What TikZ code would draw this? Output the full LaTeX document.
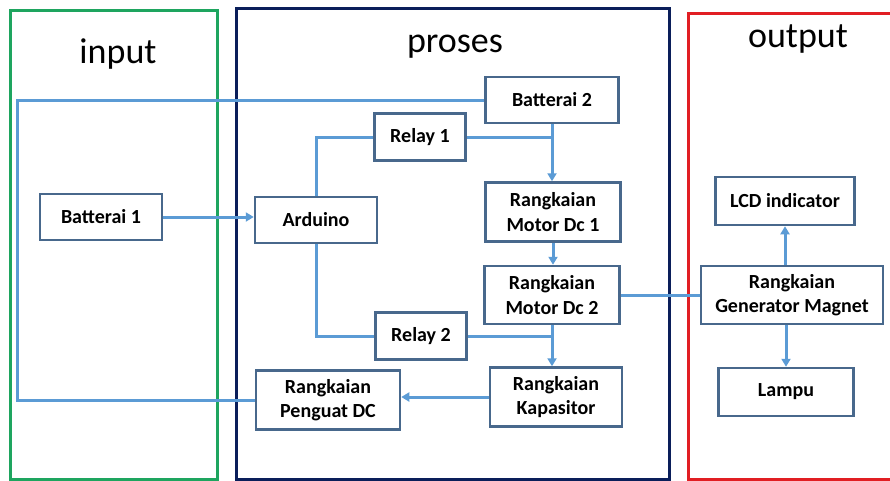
\documentclass[tikz,border=0pt]{standalone}
\usepackage{fontspec}
\setmainfont{Carlito}
\usetikzlibrary{arrows.meta}
\definecolor{kabelbiru}{RGB}{91,155,213}
\definecolor{tepikotak}{RGB}{72,104,140}
\definecolor{hijau}{RGB}{30,165,95}
\definecolor{birutua}{RGB}{10,30,90}
\definecolor{merah}{RGB}{225,30,35}

\begin{document}
\begin{tikzpicture}[x=1pt,y=-1pt,
  blok/.style={draw=tepikotak,line width=2.5pt,fill=white,align=center,inner sep=0pt,
    font=\fontsize{20}{24.5}\selectfont\bfseries},
  kabel/.style={kabelbiru,line width=3pt},
  panah/.style={kabel,-{Triangle[length=8pt,width=9pt]}},
  judul/.style={anchor=base,font=\fontsize{36}{40}\selectfont},
  grup/.style={line width=3pt}]
\useasboundingbox (0,0) rectangle (890,480);
\draw[grup,hijau](10,10)rectangle(217,479);
\draw[grup,birutua](236,8)rectangle(669,479);
\draw[grup,merah](688,13)rectangle(896,479);
\node[judul](tinput) at (118,63){input};
\node[judul](tproses) at (455,52){proses};
\node[judul](toutput) at (798,47){output};
\node[blok,minimum width=122,minimum height=46](bat1) at (101,217){Batterai 1};
\node[blok,minimum width=122,minimum height=46](ard) at (316,220){Arduino};
\node[blok,minimum width=91,minimum height=47](rly1) at (420,137){Relay 1};
\node[blok,minimum width=91,minimum height=47](rly2) at (421,336){Relay 2};
\node[blok,minimum width=133,minimum height=46](bat2) at (552,100){Batterai 2};
\node[blok,minimum width=135,minimum height=59](mtr1) at (553,212){Rangkaian\\Motor Dc 1};
\node[blok,minimum width=135,minimum height=58](mtr2) at (552,295){Rangkaian\\Motor Dc 2};
\node[blok,minimum width=132,minimum height=59](kap) at (556,397){Rangkaian\\Kapasitor};
\node[blok,minimum width=144,minimum height=59](pgt) at (328,400){Rangkaian\\Penguat DC};
\node[blok,minimum width=139,minimum height=48](lcd) at (785,201){LCD indicator};
\node[blok,minimum width=182,minimum height=58](gen) at (792,295){Rangkaian\\Generator Magnet};
\node[blok,minimum width=135,minimum height=48](lmp) at (786,392){Lampu};
\coordinate(kiri) at (17,0);
\draw[kabel](bat2.west)-|(kiri|-pgt.west)--(pgt.west);
\draw[panah](bat1.east)--(bat1.east-|ard.west);
\draw[kabel](ard.north)|-(rly1.west);
\draw[kabel](ard.south)|-(rly2.west);
\draw[kabel](rly1.east)--(rly1.east-|bat2.south);
\draw[kabel](rly2.east)--(rly2.east-|mtr2.south);
\draw[panah](bat2.south)--(bat2.south|-mtr1.north);
\draw[panah](mtr1.south)--(mtr1.south|-mtr2.north);
\draw[panah](mtr2.south)--(mtr2.south|-kap.north);
\draw[panah](kap.west)--(kap.west-|pgt.east);
\draw[kabel](mtr2.east)--(mtr2.east-|gen.west);
\draw[panah](gen.north-|lcd.south)--(lcd.south);
\draw[panah](gen.south-|lmp.north)--(lmp.north);
\end{tikzpicture}
\end{document}
